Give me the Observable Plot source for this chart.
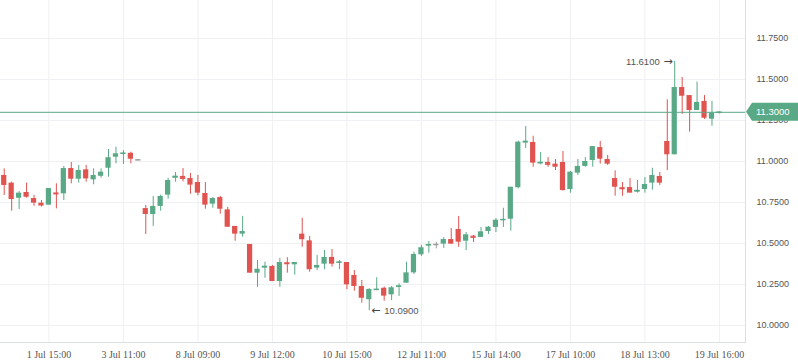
<!DOCTYPE html>
<html><head><meta charset="utf-8">
<script src="https://cdn.jsdelivr.net/npm/d3@7"></script>
<script src="https://cdn.jsdelivr.net/npm/@observablehq/plot@0.6"></script>
<style>
html,body{margin:0;padding:0;background:#fff;}
#chart svg{display:block;}
</style></head><body><div id="chart"></div>
<script>
// OHLC values, one entry per candle (slot 0..96)
const openP  = [10.915,10.868,10.776,10.811,10.774,10.746,10.734,10.808,10.803,10.957,
                10.892,10.949,10.888,10.910,10.959,11.026,11.047,11.050,11.010,10.713,
                10.677,10.726,10.795,10.898,10.909,10.896,10.872,10.805,10.740,10.780,
                10.705,10.604,10.557,10.494,10.319,10.350,10.360,10.268,10.382,10.370,
                10.557,10.516,10.350,10.374,10.415,10.382,10.384,10.305,10.238,10.157,
                10.218,10.227,10.187,10.234,10.258,10.321,10.431,10.486,10.494,10.496,
                10.524,10.585,10.514,10.545,10.537,10.573,10.598,10.642,10.648,10.840,
                11.112,11.116,10.986,10.994,10.984,10.994,10.829,10.929,10.970,11.006,
                11.085,11.012,10.896,10.840,10.841,10.813,10.829,10.868,10.909,11.122,
                11.041,11.451,11.402,11.311,11.366,11.258,11.295];
const highP  = [10.955,10.874,10.817,10.868,10.793,10.762,10.835,10.864,10.970,10.994,
                10.976,10.976,10.955,10.955,11.073,11.087,11.067,11.057,11.010,10.732,
                10.787,10.795,10.898,10.933,10.957,10.927,10.915,10.872,10.780,10.788,
                10.720,10.604,10.665,10.494,10.396,10.386,10.366,10.410,10.413,10.384,
                10.654,10.543,10.427,10.457,10.463,10.396,10.384,10.335,10.274,10.224,
                10.291,10.234,10.238,10.254,10.386,10.447,10.488,10.512,10.508,10.535,
                10.591,10.665,10.567,10.549,10.598,10.604,10.652,10.715,10.843,11.124,
                11.213,11.154,11.055,11.024,11.012,11.061,10.939,11.012,11.024,11.091,
                11.122,11.037,10.943,10.872,10.896,10.884,10.902,10.959,10.933,11.376,
                11.610,11.512,11.402,11.484,11.402,11.366,11.303];
const lowP   = [10.793,10.697,10.707,10.776,10.727,10.722,10.734,10.711,10.762,10.864,
                10.868,10.874,10.858,10.898,10.904,10.986,10.982,10.986,11.010,10.555,
                10.604,10.697,10.770,10.874,10.876,10.801,10.791,10.709,10.715,10.679,
                10.599,10.514,10.538,10.319,10.233,10.288,10.268,10.233,10.319,10.307,
                10.477,10.325,10.335,10.340,10.356,10.340,10.218,10.209,10.136,10.090,
                10.213,10.148,10.152,10.177,10.258,10.311,10.421,10.441,10.467,10.470,
                10.496,10.477,10.457,10.506,10.537,10.555,10.567,10.598,10.575,10.833,
                11.079,10.965,10.980,10.965,10.945,10.819,10.807,10.915,10.965,10.965,
                10.984,10.976,10.788,10.788,10.807,10.807,10.807,10.825,10.854,10.945,
                11.041,11.287,11.179,11.311,11.256,11.215,11.290];
const closeP = [10.854,10.768,10.807,10.782,10.746,10.736,10.835,10.804,10.957,10.892,
                10.945,10.894,10.915,10.935,11.023,11.047,11.050,11.014,11.010,10.677,
                10.726,10.787,10.884,10.909,10.898,10.856,10.807,10.734,10.774,10.709,
                10.599,10.557,10.573,10.319,10.343,10.360,10.268,10.384,10.378,10.384,
                10.523,10.340,10.366,10.415,10.374,10.386,10.248,10.238,10.166,10.220,
                10.220,10.179,10.230,10.240,10.321,10.433,10.474,10.492,10.494,10.524,
                10.496,10.508,10.553,10.539,10.571,10.599,10.642,10.646,10.843,11.118,
                11.124,10.990,10.994,10.984,10.965,10.823,10.935,10.970,11.000,11.091,
                11.014,10.984,10.843,10.835,10.807,10.823,10.860,10.915,10.868,11.041,
                11.451,11.398,11.311,11.360,11.264,11.295,11.300];
const slotCount = 100;
const xTickSlots = [6,16,26,36,46,56,66,76,86,96];
const xTickLabels = ["1 Jul 15:00","3 Jul 11:00","8 Jul 09:00","9 Jul 12:00","10 Jul 15:00",
                     "12 Jul 11:00","15 Jul 14:00","17 Jul 10:00","18 Jul 13:00","19 Jul 16:00"];
const yTicks = [10.0,10.25,10.5,10.75,11.0,11.25,11.5,11.75];
const lastPrice = 11.30;
const highMark = {slot: 90, value: 11.61};
const lowMark = {slot: 49, value: 10.09};

const GREEN = "#59a886", RED = "#e0534f", GREY = "#9b9b9b";
const GRID = "#eef0f3", AXIS = "#dcdfe4", TEXT = "#555";
const SANS = "Liberation Sans, Arial, sans-serif";
const fmt = d3.format(".4f");

const data = openP.map((o, i) => ({i, open: o, high: highP[i], low: lowP[i], close: closeP[i]}));
const col = d => d.close > d.open ? GREEN : d.close < d.open ? RED : GREY;

function priceTag(index, scales, values, dims) {
  const y = scales.y(lastPrice);
  const x0 = dims.width - dims.marginRight;
  const g = d3.create("svg:g");
  g.append("path")
    .attr("d", `M${x0 + 1},${y} L${x0 + 7},${y - 9} H${dims.width} V${y + 9} H${x0 + 7} Z`)
    .attr("fill", GREEN);
  g.append("text")
    .attr("x", x0 + 11).attr("y", y).attr("dy", "0.35em")
    .attr("text-anchor", "start")
    .attr("fill", "#fff").attr("font-size", 9.5).attr("font-family", SANS)
    .text(fmt(lastPrice));
  return g.node();
}

const chart = Plot.plot({
  width: 798, height: 363,
  marginTop: 0, marginBottom: 21, marginLeft: 0, marginRight: 53,
  style: {fontFamily: SANS, fontSize: "9px", background: "#fff", color: TEXT},
  x: {type: "band", domain: d3.range(slotCount), paddingInner: 0.3, paddingOuter: 0.15, axis: null},
  y: {domain: [9.8963, 11.9817], axis: null},
  marks: [
    Plot.gridY(yTicks, {stroke: GRID, strokeOpacity: 1}),
    Plot.gridX(xTickSlots, {stroke: GRID, strokeOpacity: 1}),
    Plot.frame({anchor: "bottom", stroke: AXIS}),
    Plot.frame({anchor: "right", stroke: AXIS}),
    Plot.ruleX(data, {x: "i", y1: "low", y2: "high", stroke: col, strokeWidth: 1}),
    Plot.barY(data, {x: "i", y1: "open", y2: "close", fill: col}),
    Plot.tickY(data.filter(d => Math.abs(d.close - d.open) < 0.012), {x: "i", y: "close", stroke: col, strokeWidth: 1.5}),
    Plot.ruleY([lastPrice], {stroke: GREEN, strokeWidth: 1}),
    Plot.axisY(yTicks, {anchor: "right", tickSize: 0, tickPadding: 11, tickFormat: fmt, fontSize: 9, fill: TEXT, label: null}),
    Plot.axisX(xTickSlots, {anchor: "bottom", tickSize: 0, tickPadding: 8, fontSize: 10,
      fontFamily: "Liberation Serif, Times New Roman, serif", fill: TEXT, label: null,
      tickFormat: d => xTickLabels[xTickSlots.indexOf(d)]}),
    // high annotation: value then arrow pointing right to the candle
    Plot.text([highMark], {x: "slot", y: "value", text: d => fmt(d.value), textAnchor: "end", dx: -15, fontSize: 9.5, fill: TEXT}),
    Plot.text([highMark], {x: "slot", y: "value", text: () => "\u2192", textAnchor: "end", dx: -2, fontSize: 11, fontFamily: "DejaVu Sans", fill: "#444"}),
    // low annotation: arrow pointing left to the candle then value
    Plot.text([lowMark], {x: "slot", y: "value", text: () => "\u2190", textAnchor: "start", dx: 2, fontSize: 11, fontFamily: "DejaVu Sans", fill: "#444"}),
    Plot.text([lowMark], {x: "slot", y: "value", text: d => fmt(d.value), textAnchor: "start", dx: 15, fontSize: 9.5, fill: TEXT}),
    priceTag
  ]
});
document.getElementById("chart").appendChild(chart);
</script>
</body></html>
